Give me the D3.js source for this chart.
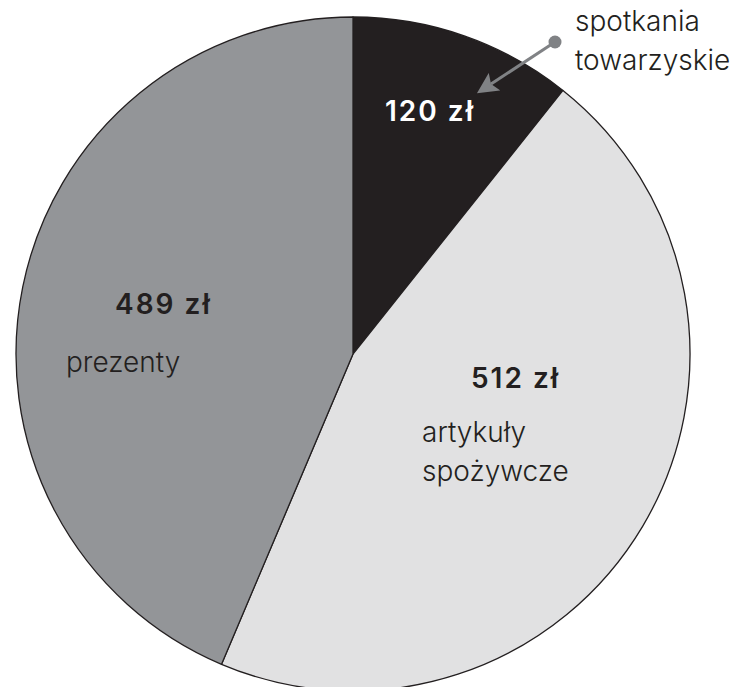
<!DOCTYPE html>
<html><head><meta charset="utf-8">
<script src="https://cdn.jsdelivr.net/npm/d3@7"></script>
<style>body{margin:0;background:#fff}svg{display:block}</style>
</head><body>
<script>
const categories = ["spotkania towarzyskie", "artykuły spożywcze", "prezenty"];
const values = [120, 512, 489];
const valueLabels = ["120 zł", "512 zł", "489 zł"];
const colors = ["#231f20", "#e1e1e2", "#939598"];

const W = 736, H = 687, cx = 353, cy = 354, R = 337;
const svg = d3.select("body").append("svg").attr("width", W).attr("height", H);
const g = svg.append("g").attr("transform", `translate(${cx},${cy})`);

const pie = d3.pie().sort(null).value(d => d)(values);
const arc = d3.arc().innerRadius(0).outerRadius(R);
g.selectAll("path").data(pie).join("path")
  .attr("d", arc)
  .attr("fill", (d, i) => colors[i])
  .attr("stroke", "#231f20").attr("stroke-width", 1.3).attr("stroke-linejoin", "round");

const font = "Inter, 'Open Sans', sans-serif";
// value labels (positions relative to center)
const valPos = [[32, -233], [118, 34], [-238, -40]];
const valColor = ["#ffffff", "#231f20", "#231f20"];
g.selectAll("text.val").data(pie).join("text").attr("class", "val")
  .attr("x", (d, i) => valPos[i][0]).attr("y", (d, i) => valPos[i][1])
  .attr("font-family", font).attr("font-weight", 600).attr("font-size", 28)
  .attr("letter-spacing", 2)
  .attr("fill", (d, i) => valColor[i])
  .text((d, i) => valueLabels[i]);

// category labels
const catLines = [["spotkania", "towarzyskie"], ["artykuły", "spożywcze"], ["prezenty"]];
const catPos = [[222, -323], [69, 88], [-287, 18]];
catLines.forEach((lines, i) => {
  const t = g.append("text")
    .attr("font-family", font).attr("font-weight", 300).attr("font-size", 28)
    .attr("letter-spacing", 0).attr("fill", "#231f20");
  lines.forEach((l, j) => t.append("tspan").attr("x", catPos[i][0]).attr("y", catPos[i][1] + j * 39).text(l));
});

// leader arrow
const a0 = [202, -312], a1 = [126, -262];
svg.append("defs").append("marker").attr("id", "ah").attr("viewBox", "0 0 10 10")
  .attr("refX", 2).attr("refY", 5).attr("markerWidth", 7).attr("markerHeight", 7)
  .attr("orient", "auto").attr("markerUnits", "strokeWidth")
  .append("path").attr("d", "M0,0 L10,5 L0,10 L2,5 z").attr("fill", "#808285");
g.append("line").attr("x1", a0[0]).attr("y1", a0[1]).attr("x2", a1[0] + 12).attr("y2", a1[1] - 8)
  .attr("stroke", "#808285").attr("stroke-width", 3).attr("marker-end", "url(#ah)");
g.append("circle").attr("cx", a0[0]).attr("cy", a0[1]).attr("r", 6.5).attr("fill", "#808285");
</script>
</body></html>
